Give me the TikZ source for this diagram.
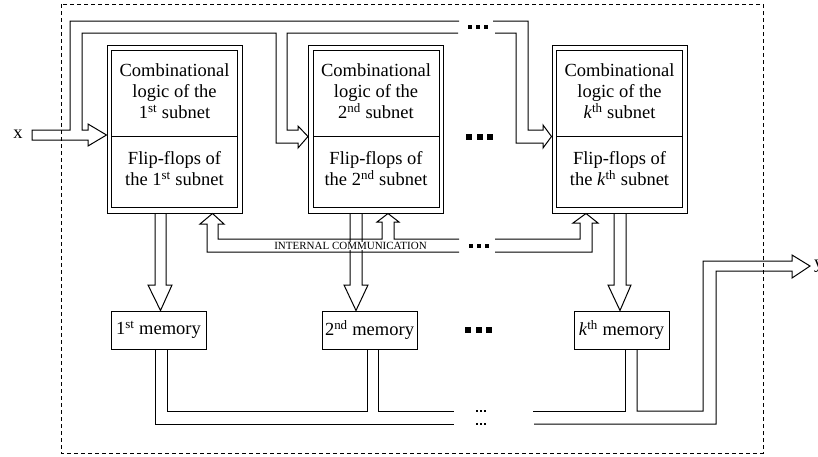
\documentclass[tikz,border=0pt]{standalone}
\usepackage{fontspec}
\setmainfont{Liberation Serif}
\usetikzlibrary{calc}
\begin{document}
\begin{tikzpicture}[x=1pt,y=-1pt,line join=miter,
  wire/.style={line width=1pt},
  frame/.style={line width=0.9pt,dash pattern=on 4pt off 3pt},
  block/.style={draw,line width=1pt,minimum width=135pt,minimum height=168pt,inner sep=0pt},
  memo/.style={draw,line width=1pt,minimum width=95pt,minimum height=38pt,inner sep=0pt,
    font=\fontsize{18.5}{21}\selectfont},
  txt/.style={align=center,inner sep=0pt,font=\fontsize{18.5}{21}\selectfont},
  bustxt/.style={inner sep=0.6pt,fill=white,font=\fontsize{11}{12}\selectfont},
  io/.style={inner sep=0pt,font=\fontsize{18.5}{21}\selectfont}
]
\useasboundingbox (0,0) rectangle (818,456);

% outer boundary of the device
\draw[frame] (61,4) rectangle (763,453);

% subnet blocks
\node[block] (b1) at (174.5,129) {};
\node[block] (b2) at (376,129) {};
\node[block] (bk) at (619.5,129) {};
\foreach \b in {b1,b2,bk}{
  \draw[wire] ($(\b.north west)+(5,6)$) rectangle ($(\b.south east)+(-5,-6)$);
  \draw[wire] ($(\b.north west)+(5,92)$) -- ($(\b.north east)+(-5,92)$);
}
\node[txt] (c1) at ($(b1.north)+(0,46.5)$) {Combinational\\logic of the\\1\textsuperscript{st} subnet};
\node[txt] (f1) at ($(b1.north)+(0,124.5)$) {Flip-flops of\\the 1\textsuperscript{st} subnet};
\node[txt] (c2) at ($(b2.north)+(0,46.5)$) {Combinational\\logic of the\\2\textsuperscript{nd} subnet};
\node[txt] (f2) at ($(b2.north)+(0,124.5)$) {Flip-flops of\\the 2\textsuperscript{nd} subnet};
\node[txt] (ck) at ($(bk.north)+(0,46.5)$) {Combinational\\logic of the\\\textit{k}\textsuperscript{th} subnet};
\node[txt] (fk) at ($(bk.north)+(0,124.5)$) {Flip-flops of\\the \textit{k}\textsuperscript{th} subnet};

% memories
\node[memo] (m1) at (158.5,330) {1\textsuperscript{st} memory};
\node[memo] (m2) at (369.5,330) {2\textsuperscript{nd} memory};
\node[memo] (mk) at (621.5,330) {\textit{k}\textsuperscript{th} memory};

% arrow tips on the blocks
\coordinate (t1) at ($(b1.west)+(0,6)$);
\coordinate (t2) at ($(b2.west)+(0,7.5)$);
\coordinate (tk) at ($(bk.west)+(0,7.5)$);

% input x and the broadcast bus over the subnets
\node[io,anchor=base] (x) at (18,138) {x};
\draw[wire] (459,21) -- (70,21) -- (70,130) -- (32,130) -- (32,140) -- (88,140) -- (88,146)
  -- (t1) -- (88,124) -- (88,130) -- (82,130) -- (82,33) -- (276,33) -- (276,143)
  -- (298,143) -- (298,148) -- (t2) -- (298,126) -- (298,130) -- (287,130) -- (287,33) -- (458,33);
\draw[wire] (493,21) -- (528,21) -- (528,130) -- (543,130) -- (543,125) -- (tk)
  -- (543,148) -- (543,143) -- (516,143) -- (516,33) -- (495,33);

% internal communication bus
\draw[wire] (459,239) -- (394,239) -- (394,222) -- (399,222) -- ($(b2.south)+(12,0)$)
  -- (377,222) -- (382,222) -- (382,239) -- (218,239) -- (218,224) -- (224,224)
  -- ($(b1.south)+(38,0)$) -- (200,224) -- (207,224) -- (207,252) -- (459,252);
\draw[wire] (495,239) -- (580,239) -- (580,223) -- (573,223) -- ($(bk.south)+(-33.5,0)$)
  -- (598,223) -- (592,223) -- (592,252) -- (495,252);

% flip-flops to memories
\draw[wire] (155,213) -- (155,285) -- (148,285) -- ($(m1.north)+(2,0)$) -- (172,285) -- (166,285) -- (166,213);
\draw[wire] (350,213) -- (350,285) -- (344,285) -- ($(m2.north)+(-13.5,0)$) -- (368,285) -- (362,285) -- (362,213);
\draw[wire] (614,213) -- (614,285) -- (608,285) -- ($(mk.north)+(-1.5,0)$) -- (631,285) -- (626,285) -- (626,213);
\node[bustxt] (ic) at (350.5,246) {INTERNAL COMMUNICATION};

% output bus
\coordinate (yo) at (810,266);
\draw[wire] (m1.south -| 155,0) -- (155,424) -- (454,424);
\draw[wire] (m1.south -| 167,0) -- (167,411) -- (367,411) -- (m2.south -| 367,0);
\draw[wire] (m2.south -| 378,0) -- (378,411) -- (454,411);
\draw[wire] (533,411) -- (625,411) -- (mk.south -| 625,0);
\draw[wire] (mk.south -| 637,0) -- (637,411) -- (703,411) -- (703,261) -- (792,261) -- (792,255)
  -- (yo) -- (792,278) -- (792,271) -- (716,271) -- (716,424) -- (534,424);
\node[io,anchor=west] (y) at ($(yo)+(4,0)$) {y};

% ellipses
\foreach \cx in {469,479.5,490}{
  \fill ($(\cx,137)+(-3,-3)$) rectangle ++(6,6);
  \fill ($(\cx-1,330)+(-3,-3)$) rectangle ++(6,6);
}
\foreach \cx in {469.5,477.5,485.5}{
  \fill ($(\cx,27)+(-2,-2)$) rectangle ++(4,4);
  \fill ($(\cx+1,246)+(-2,-2)$) rectangle ++(4,4);
}
\foreach \cx in {477,481,485}{
  \fill ($(\cx,411)+(-0.8,-0.8)$) rectangle ++(1.6,1.6);
  \fill ($(\cx,424)+(-0.8,-0.8)$) rectangle ++(1.6,1.6);
}
\end{tikzpicture}
\end{document}
